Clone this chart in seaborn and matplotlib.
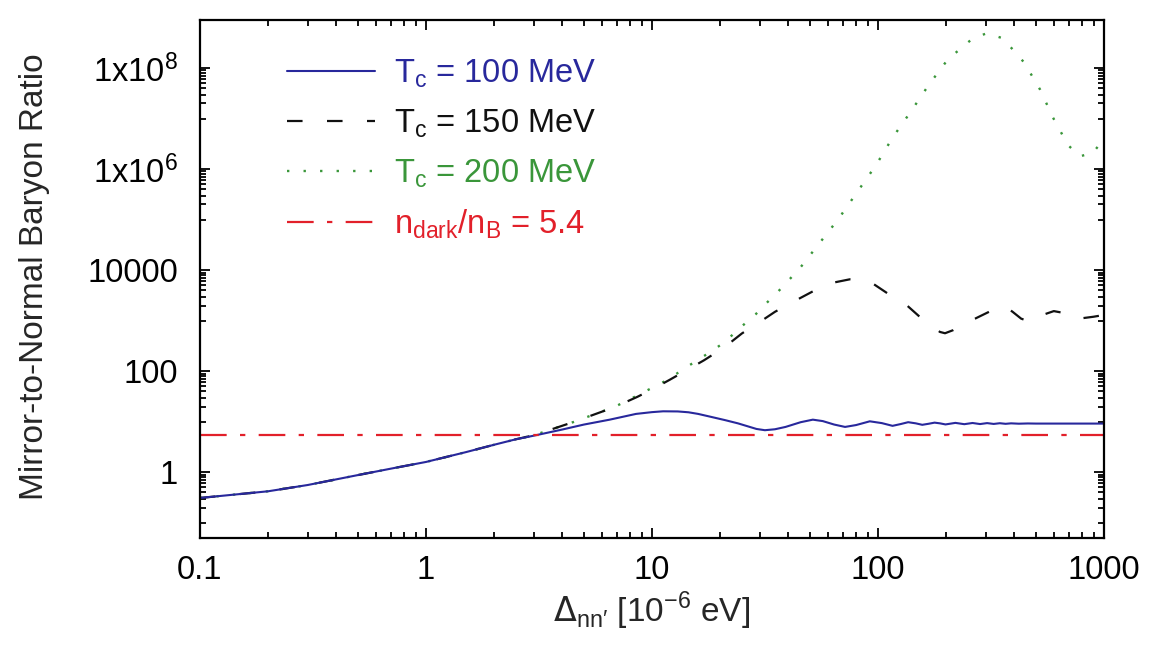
import numpy as np
import pandas as pd
import seaborn as sns
import matplotlib.pyplot as plt
from matplotlib.ticker import FixedLocator, FuncFormatter, LogLocator, NullFormatter

# values (x in 1e-6 eV, y = mirror/normal ratio)
low_x = [0.1, 0.2, 0.3, 0.5, 0.7, 1.0, 1.5, 2.0, 2.5]
low_y = [0.31, 0.42, 0.56, 0.88, 1.18, 1.6, 2.5, 3.5, 4.5]

tc100_x = [3.0, 4.0, 5.0, 6.5, 8.5, 10, 11.2, 13, 14.5, 16, 18.1, 21, 24, 29, 31.6, 35, 39, 45.5,
           51.5, 57, 64, 71.5, 80, 92, 104, 116, 126, 136, 147, 157, 167, 178,
           188, 199, 220, 241, 262, 283, 304, 325, 346, 367, 388, 420, 460, 500, 1000]
tc100_y = [5.3, 7.0, 8.8, 11.0, 14.3, 15.5, 16.1, 16.0, 15.4, 14.3, 12.6, 10.8, 9.3, 7.2, 6.8, 7.1, 7.9, 9.8,
           11.0, 10.3, 8.8, 7.9, 8.6, 10.2, 9.4, 8.3, 9.0, 9.8, 9.3, 8.7, 9.1, 9.6,
           9.3, 8.85, 9.5, 8.95, 9.45, 9.0, 9.4, 9.05, 9.35, 9.1, 9.3, 9.15, 9.25, 9.2, 9.2]

tc150_x = [3.0, 4.5, 6.85, 8.6, 10, 12, 14.4, 17, 21, 25, 29.4, 35, 42, 52, 62.5,
           75, 85, 94, 110, 134, 160, 188, 198, 215, 240, 269, 310, 365, 395, 430,
           471, 510, 548, 600, 650, 700, 745, 800, 900, 1000]
tc150_y = [5.4, 9.9, 19.6, 31, 43.5, 68, 108, 165, 302, 560, 890, 1500, 2350, 3900, 5600,
           6600, 6300, 5600, 3500, 2030, 1000, 600, 565, 650, 880, 1100, 1500, 1940, 1490, 1100,
           950, 1100, 1350, 1550, 1450, 1200, 1090, 1120, 1200, 1300]

tc200_x = [3.0, 4.5, 6.85, 8.6, 11.6, 14.4, 17.5, 20, 22.6, 25.3, 28.8, 32, 36, 45, 55,
           67, 81, 98, 116, 140, 168, 204, 263, 303, 357, 443, 521, 595, 693, 783, 893, 1000]
tc200_y = [5.4, 9.9, 19.8, 33, 66, 125, 218, 325, 515, 815, 1350, 2200, 3700, 10800, 34000,
           105000, 355000, 1.2e6, 4.2e6, 1.4e7, 4.7e7, 1.5e8, 3.9e8, 4.9e8, 3.9e8, 1.3e8, 3.8e7,
           1.05e7, 3.0e6, 1.8e6, 2.1e6, 4.0e6]

ratio_dark = 5.4

labels = ['T$_\\mathregular{c}$ = 100 MeV', 'T$_\\mathregular{c}$ = 150 MeV',
          'T$_\\mathregular{c}$ = 200 MeV', 'n$_\\mathregular{dark}$/n$_\\mathregular{B}$ = 5.4']
colors = ['#28289c', '#111111', '#3a963a', '#e2202a']

sns.set_style('ticks')
plt.rcParams['font.family'] = ['Liberation Sans', 'DejaVu Sans']

fig = plt.figure(figsize=(11.6, 6.65), dpi=100)
ax = fig.add_axes([0.1724, 0.191, 0.7793, 0.779])

def series(xs, ys):
  return pd.DataFrame({'x': low_x + xs, 'y': low_y + ys})

d200 = series(tc200_x, tc200_y)
d150 = series(tc150_x, tc150_y)
d100 = series(tc100_x, tc100_y)

sns.lineplot(data=d200, x='x', y='y', ax=ax, color=colors[2], lw=1.7,
             linestyle=(0, (1, 6)), label=labels[2])
sns.lineplot(data=d150, x='x', y='y', ax=ax, color=colors[1], lw=1.6,
             linestyle=(0, (7, 11)), label=labels[1])
sns.lineplot(data=d100, x='x', y='y', ax=ax, color=colors[0], lw=1.5,
             label=labels[0])
ax.axhline(ratio_dark, color=colors[3], lw=1.6, linestyle=(0, (12, 6, 2.4, 6)), label=labels[3])

ax.set_xscale('log')
ax.set_yscale('log')
ax.set_xlim(0.1, 1000)
ax.set_ylim(0.05, 9e8)

ax.xaxis.set_major_locator(LogLocator(base=10))
ax.xaxis.set_minor_locator(LogLocator(base=10, subs=np.arange(2, 10)))
ax.xaxis.set_major_formatter(FuncFormatter(lambda v, p: '%g' % v))
ax.xaxis.set_minor_formatter(NullFormatter())

ax.yaxis.set_major_locator(FixedLocator([1, 100, 1e4, 1e6, 1e8]))
ax.yaxis.set_minor_locator(FixedLocator([k * 10.0**e for e in (-1, 1, 3, 5, 7) for k in range(1, 10)]))

def yfmt(v, p):
  if v >= 1e5:
    return '$\\mathregular{1x10^{%d}}$' % round(np.log10(v))
  return '%g' % v

ax.yaxis.set_major_formatter(FuncFormatter(yfmt))
ax.yaxis.set_minor_formatter(NullFormatter())

ax.tick_params(which='both', direction='in', top=True, right=True, width=1.3, colors='black')
ax.tick_params(which='major', length=7.5)
ax.tick_params(which='minor', length=4)
ax.tick_params(axis='x', labelsize=23.5, pad=12)
ax.tick_params(axis='y', labelsize=23.5, pad=16)
for s in ax.spines.values():
  s.set_linewidth(1.6)
  s.set_color('black')

ax.set_xlabel('$\\Delta_\\mathregular{nn\u2032}$ [10$^\\mathregular{-6}$ eV]', fontsize=24)
ax.set_ylabel('Mirror-to-Normal Baryon Ratio', fontsize=24)
ax.xaxis.set_label_coords(0.5, -0.1)
ax.yaxis.set_label_coords(-0.166, 0.505)

h, l = ax.get_legend_handles_labels()
order = [l.index(t) for t in labels]
leg = ax.legend([h[i] for i in order], [l[i] for i in order], loc='upper left',
                bbox_to_anchor=(0.096, 0.928), frameon=False, fontsize=23.5,
                handlelength=2.7, handletextpad=0.6, labelspacing=0.53,
                borderpad=0, borderaxespad=0)
for t, c in zip(leg.get_texts(), colors):
  t.set_color(c)

fig.savefig('out.png', dpi=100)
